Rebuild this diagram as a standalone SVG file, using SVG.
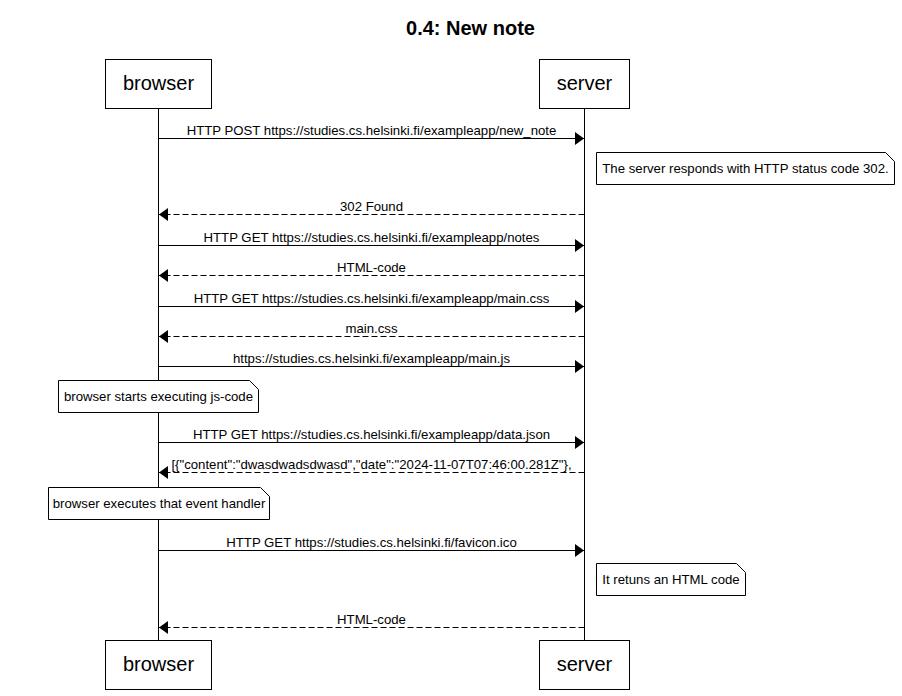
<svg xmlns="http://www.w3.org/2000/svg" width="902" height="696" viewBox="0 0 902 696">
<style>
text{font-family:"Liberation Sans",Arial,sans-serif;fill:#000}
.title{font-size:20px;font-weight:bold}
.actor rect{fill:#fff;stroke:#000;stroke-width:1}
.actor text{font-size:20px}
.life{stroke:#000;stroke-width:1}
.msg{stroke:#000;stroke-width:1;fill:none;marker-end:url(#ah)}
.dash{stroke-dasharray:6,3}
.lbl{font-size:13.2px;text-anchor:middle}
.note path{fill:#fff;stroke:#000;stroke-width:1}
.note text{font-size:13.2px;text-anchor:middle}
</style>
<defs>
<marker id="ah" markerUnits="userSpaceOnUse" markerWidth="10" markerHeight="14" refX="9" refY="7" orient="auto" viewBox="0 0 10 14">
<path d="M0,0.5 L9,7 L0,13.5 z" fill="#000"/>
</marker>
</defs>
<rect width="902" height="696" fill="#fff"/>
<text class="title" x="470.5" y="35" text-anchor="middle">0.4: New note</text>

<g id="lifelines">
<line class="life" x1="158.5" y1="108.5" x2="158.5" y2="640.5"/>
<line class="life" x1="584.5" y1="108.5" x2="584.5" y2="640.5"/>
</g>

<g id="actor-browser-top" class="actor"><rect x="105.5" y="59.5" width="106" height="49"/><text x="158.5" y="90" text-anchor="middle">browser</text></g>
<g id="actor-server-top" class="actor"><rect x="539.5" y="59.5" width="90" height="49"/><text x="584.5" y="90" text-anchor="middle">server</text></g>
<g id="actor-browser-bottom" class="actor"><rect x="105.5" y="640.5" width="106" height="49"/><text x="158.5" y="671" text-anchor="middle">browser</text></g>
<g id="actor-server-bottom" class="actor"><rect x="539.5" y="640.5" width="90" height="49"/><text x="584.5" y="671" text-anchor="middle">server</text></g>

<g id="connectors">
<line class="msg" x1="158.5" y1="138.5" x2="584" y2="138.5"/>
<text class="lbl" x="371.5" y="134.5">HTTP POST https://studies.cs.helsinki.fi/exampleapp/new_note</text>
<line class="msg dash" x1="584.5" y1="214.5" x2="159" y2="214.5"/>
<text class="lbl" x="371.5" y="210.5">302 Found</text>
<line class="msg" x1="158.5" y1="245.5" x2="584" y2="245.5"/>
<text class="lbl" x="371.5" y="241.5">HTTP GET https://studies.cs.helsinki.fi/exampleapp/notes</text>
<line class="msg dash" x1="584.5" y1="275.5" x2="159" y2="275.5"/>
<text class="lbl" x="371.5" y="271.5">HTML-code</text>
<line class="msg" x1="158.5" y1="306.5" x2="584" y2="306.5"/>
<text class="lbl" x="371.5" y="302.5">HTTP GET https://studies.cs.helsinki.fi/exampleapp/main.css</text>
<line class="msg dash" x1="584.5" y1="336.5" x2="159" y2="336.5"/>
<text class="lbl" x="371.5" y="332.5">main.css</text>
<line class="msg" x1="158.5" y1="366.5" x2="584" y2="366.5"/>
<text class="lbl" x="371.5" y="362.5">https://studies.cs.helsinki.fi/exampleapp/main.js</text>
<line class="msg" x1="158.5" y1="442.5" x2="584" y2="442.5"/>
<text class="lbl" x="371.5" y="438.5">HTTP GET https://studies.cs.helsinki.fi/exampleapp/data.json</text>
<line class="msg dash" x1="584.5" y1="472.5" x2="159" y2="472.5"/>
<text class="lbl" x="371.5" y="468.5">[{"content":"dwasdwadsdwasd","date":"2024-11-07T07:46:00.281Z"},</text>
<line class="msg" x1="158.5" y1="550.5" x2="584" y2="550.5"/>
<text class="lbl" x="371.5" y="546.5">HTTP GET https://studies.cs.helsinki.fi/favicon.ico</text>
<line class="msg dash" x1="584.5" y1="627.5" x2="159" y2="627.5"/>
<text class="lbl" x="371.5" y="623.5">HTML-code</text>
</g>

<g id="note-302" class="note">
<path d="M596.5,152.5 H885.5 L894.5,161.5 V184.5 H596.5 Z"/>
<text x="745.5" y="173">The server responds with HTTP status code 302.</text>
</g>
<g id="note-js" class="note">
<path d="M58.5,380.5 H249.5 L258.5,389.5 V412.5 H58.5 Z"/>
<text x="158.5" y="401">browser starts executing js-code</text>
</g>
<g id="note-handler" class="note">
<path d="M48.5,487.5 H260.5 L269.5,496.5 V519.5 H48.5 Z"/>
<text x="159" y="508">browser executes that event handler</text>
</g>
<g id="note-html" class="note">
<path d="M596.5,563.5 H736.5 L745.5,572.5 V595.5 H596.5 Z"/>
<text x="671" y="584">It retuns an HTML code</text>
</g>
</svg>
